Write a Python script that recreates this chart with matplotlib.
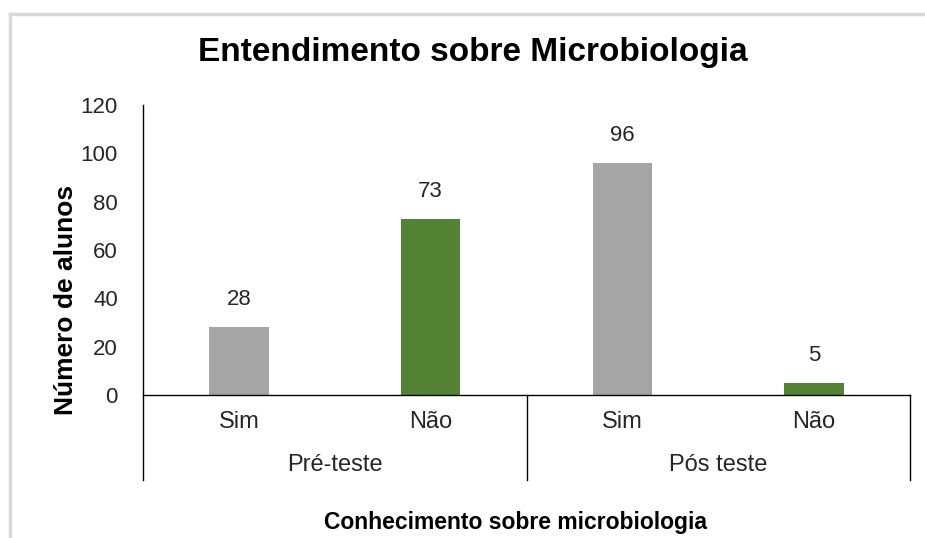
import matplotlib

matplotlib.use("Agg")

import matplotlib.pyplot as plt
from matplotlib.lines import Line2D

# data
categories = ["Sim", "Não", "Sim", "Não"]
groups = ["Pré-teste", "Pós teste"]
values = [28, 73, 96, 5]
bar_colors = ["#A5A5A5", "#548235", "#A5A5A5", "#548235"]
y_ticks = [0, 20, 40, 60, 80, 100, 120]

TEXT = "#262626"
FONT = ["Liberation Sans", "DejaVu Sans"]

fig = plt.figure(figsize=(9.25, 5.38), dpi=100)

# chart-area border: only top and left edges are visible in the crop
border_kw = dict(transform=fig.transFigure, color="#D9D9D9", linewidth=2.5)
fig.lines.append(Line2D([9.5 / 925, 1], [1 - 14 / 538] * 2, **border_kw))
fig.lines.append(Line2D([9.5 / 925] * 2, [0, 1 - 14 / 538], **border_kw))

ax = fig.add_axes([143 / 925, 143 / 538, 767 / 925, 290 / 538])
x = list(range(len(categories)))
ax.bar(x, values, width=0.31, color=bar_colors)

for xi, v in zip(x, values):
    ax.text(xi, v + 7, str(v), ha="center", va="bottom", fontsize=16,
            color=TEXT, family=FONT)

ax.set_xlim(-0.5, len(categories) - 0.5)
ax.set_ylim(0, 120)
ax.set_yticks(y_ticks)
ax.set_yticklabels([str(t) for t in y_ticks], fontsize=16, color=TEXT, family=FONT)
ax.tick_params(axis="y", length=0, pad=18)
ax.set_xticks([])

for side in ["top", "right", "bottom", "left"]:
    ax.spines[side].set_visible(False)

# axis lines and multi-level category separators (axes coords, drawn outside)
line_kw = dict(color="black", linewidth=1, clip_on=False, transform=ax.transAxes)
depth = -85 / 290
ax.plot([0, 1], [0, 0], **line_kw)
ax.plot([0, 0], [depth, 1], **line_kw)
ax.plot([0.5, 0.5], [depth, 0], **line_kw)
ax.plot([1, 1], [depth, 0], **line_kw)

for xi, label in zip(x, categories):
    ax.text(xi, -27 / 290 * 120, label, ha="center", va="center", fontsize=17,
            color=TEXT, family=FONT)
for gi, label in enumerate(groups):
    ax.text(gi * 2 + 0.5, -70 / 290 * 120, label, ha="center", va="center",
            fontsize=17, color=TEXT, family=FONT)

ax.set_ylabel("Número de alunos", fontsize=19, fontweight="bold",
              family=FONT, color="black")
ax.yaxis.set_label_coords(-65 / 767, 95 / 290)

fig.text(473 / 925, 1 - 52 / 538, "Entendimento sobre Microbiologia",
         ha="center", va="center", fontsize=24, fontweight="bold",
         family=FONT, color="black")
fig.text(516 / 925, 1 - 522 / 538, "Conhecimento sobre microbiologia",
         ha="center", va="center", fontsize=16.5, fontweight="bold",
         family=FONT, color="black")

fig.savefig("out.png", dpi=100)
